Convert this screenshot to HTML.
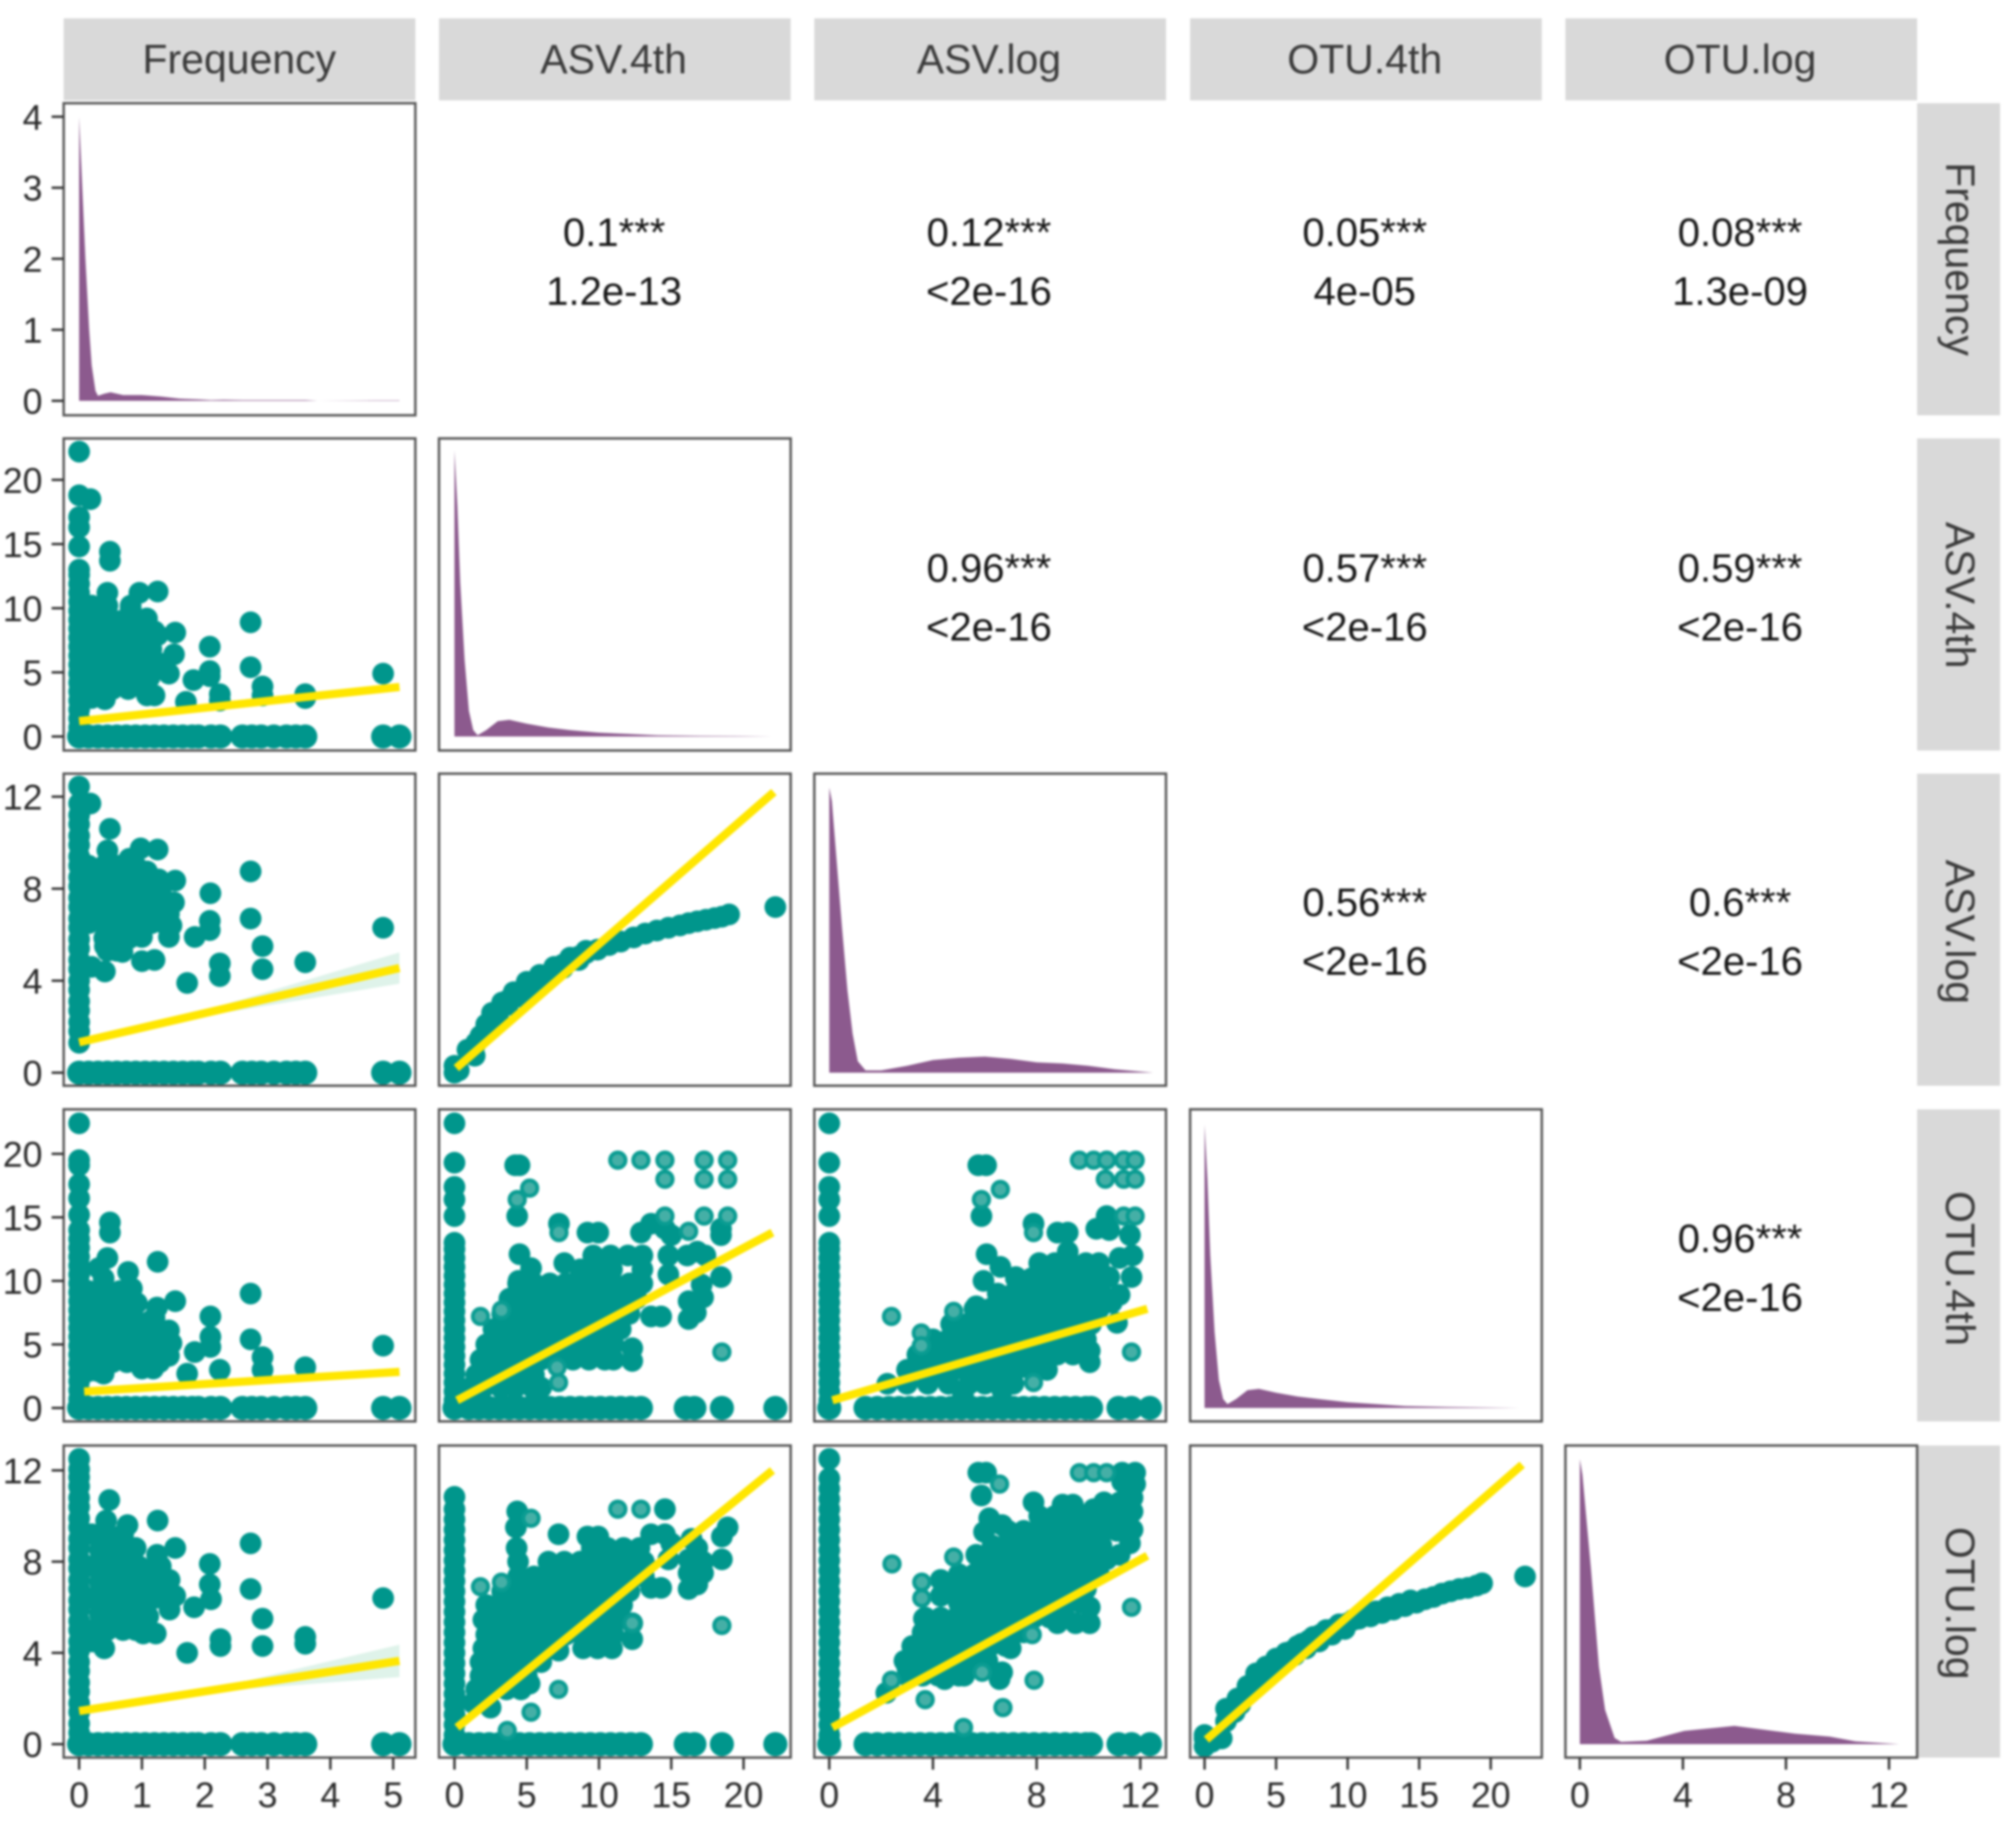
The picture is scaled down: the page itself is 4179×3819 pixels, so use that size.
<!DOCTYPE html>
<html lang="en">
<head>
<meta charset="utf-8">
<title>Pairs plot</title>
<style>
html,body{margin:0;padding:0;background:#fff;width:4179px;height:3819px;overflow:hidden}
svg{display:block;filter:blur(2.4px)}
text{font-family:"Liberation Sans",sans-serif}
.strip{fill:#d9d9d9}
.st{font-size:85px;fill:#3a3a3a;text-anchor:middle}
.co{font-size:83px;fill:#161616;text-anchor:middle}
.tk{font-size:74px;fill:#2b2b2b}
</style>
</head>
<body>
<svg id="chart" xmlns="http://www.w3.org/2000/svg" width="4179" height="3819" viewBox="0 0 4179 3819">
<rect width="4179" height="3819" fill="#fff"/>
<g>
<rect class="strip" x="132" y="38" width="729" height="170"/>
<rect class="strip" x="910" y="38" width="729" height="170"/>
<rect class="strip" x="1688" y="38" width="729" height="170"/>
<rect class="strip" x="2467" y="38" width="729" height="170"/>
<rect class="strip" x="3245" y="38" width="729" height="170"/>
<text class="st" x="496" y="152">Frequency</text>
<text class="st" x="1272" y="152">ASV.4th</text>
<text class="st" x="2050" y="152">ASV.log</text>
<text class="st" x="2829" y="152">OTU.4th</text>
<text class="st" x="3607" y="152">OTU.log</text>
</g>
<g>
<rect class="strip" x="3974" y="214" width="172" height="647"/>
<rect class="strip" x="3974" y="909" width="172" height="647"/>
<rect class="strip" x="3974" y="1604" width="172" height="647"/>
<rect class="strip" x="3974" y="2300" width="172" height="647"/>
<rect class="strip" x="3974" y="2997" width="172" height="647"/>
<text class="st" transform="translate(4034,537) rotate(90)">Frequency</text>
<text class="st" transform="translate(4034,1234) rotate(90)">ASV.4th</text>
<text class="st" transform="translate(4034,1932) rotate(90)">ASV.log</text>
<text class="st" transform="translate(4034,2630) rotate(90)">OTU.4th</text>
<text class="st" transform="translate(4034,3324) rotate(90)">OTU.log</text>
</g>
<g>
<text class="co" x="1273" y="510">0.1***</text>
<text class="co" x="1273" y="632">1.2e-13</text>
<text class="co" x="2050" y="510">0.12***</text>
<text class="co" x="2050" y="632">&lt;2e-16</text>
<text class="co" x="2829" y="510">0.05***</text>
<text class="co" x="2829" y="632">4e-05</text>
<text class="co" x="3607" y="510">0.08***</text>
<text class="co" x="3607" y="632">1.3e-09</text>
<text class="co" x="2050" y="1206">0.96***</text>
<text class="co" x="2050" y="1328">&lt;2e-16</text>
<text class="co" x="2829" y="1206">0.57***</text>
<text class="co" x="2829" y="1328">&lt;2e-16</text>
<text class="co" x="3607" y="1206">0.59***</text>
<text class="co" x="3607" y="1328">&lt;2e-16</text>
<text class="co" x="2829" y="1899">0.56***</text>
<text class="co" x="2829" y="2021">&lt;2e-16</text>
<text class="co" x="3607" y="1899">0.6***</text>
<text class="co" x="3607" y="2021">&lt;2e-16</text>
<text class="co" x="3607" y="2596">0.96***</text>
<text class="co" x="3607" y="2718">&lt;2e-16</text>
</g>
<g id="panels"></g>
</svg>
<script>
// axis ticks
const tickFreqX=[0,1,2,3,4,5];
const tickFreqY=[0,1,2,3,4];
const tickAsv4=[0,5,10,15,20];
const tickAsvLog=[0,4,8,12];
const tickOtu4=[0,5,10,15,20];
const tickOtuLog=[0,4,8,12];
// densities (diagonal)
const densFreqX=[0,.05,.1,.16,.2,.26,.3,.4,.5,.7,1,1.3,1.6,1.9,2.1,2.3,2.6,3,3.6,3.8,4.8,5.1];
const densFreqY=[4,3,2,1,.5,.14,.07,.1,.12,.08,.08,.06,.03,.02,.01,.015,.01,.01,.01,0,.006,.006];
const densAsv4X=[0,.2,.4,.7,1,1.3,1.6,2.2,3,3.8,5,6.5,8,10,12,14,17,20,22];
const densAsv4Y=[22.3,18,12,6,2,.5,.1,.5,1.2,1.3,1,.7,.5,.3,.2,.1,.05,.03,0];
const densAsvLogX=[0,.1,.3,.5,.7,.9,1.1,1.4,2,3,4,5,6,7,8,9,10,11,12,12.5];
const densAsvLogY=[12.4,11.8,9,6.2,3.6,1.7,.5,.1,.1,.3,.55,.65,.7,.6,.45,.4,.3,.15,.05,0];
const densOtu4X=[0,.2,.4,.7,1,1.3,1.6,2.2,3,3.8,5,6.5,8,10,12,14,17,20,22];
const densOtu4Y=[22.3,18,12,6,2.2,.7,.3,.7,1.4,1.5,1.2,.9,.7,.45,.3,.15,.08,.03,0];
const densOtuLogX=[0,.1,.43,.74,.98,1.35,1.6,2.6,4.05,6,8.35,9.7,10.7,12.4];
const densOtuLogY=[12.5,11.8,7.7,3.4,1.5,.27,.1,.15,.58,.8,.46,.33,.12,0];
// marks on the zero lines
const bandFreqX=[0,.15,.3,.45,.6,.75,.9,1.05,1.2,1.35,1.5,1.65,1.8,1.9,2.1,2.25,2.6,2.75,2.9,3.1,3.3,3.45,3.6,4.84,5.1];
const bandAsv4X=[0,1,1.7,2.4,3.1,3.8,4.5,5.2,5.9,6.6,7.3,8,8.7,9.4,10.1,10.8,11.5,12.2,12.9,16,16.6,18.5,22.2];
const bandAsvLogX=[0,1.4,1.85,2.3,2.7,3.1,3.5,3.9,4.3,4.7,5.1,5.5,5.9,6.3,6.7,7.1,7.5,7.9,8.3,8.7,9.1,9.5,9.9,10.1,11.16,11.66,12.37];
const stripeAsv4FreqY=[.7,1.4,2.1,2.8,3.5,4.2,4.9,5.6,6.3,7,7.7,8.4,9.1,9.8,10.5,11.2,11.9,12.6,13,14.8,16.3,17.1,18.8,22.2];
const stripeAsvLogFreqY=[1.3,1.8,2.2,2.7,3.1,3.6,4,4.5,4.9,5.4,5.8,6.3,6.7,7.2,7.6,8.1,8.5,9,9.4,9.9,10.3,10.8,11.2,11.7,12.44];
const stripeOtu4FreqY=[.7,1.4,2.1,2.8,3.5,4.2,4.9,5.6,6.3,7,7.7,8.4,9.1,9.8,10.5,11.2,11.9,12.6,13.3,14,15.2,16.5,17.6,19.1,19.5,22.4];
const stripeOtuLogFreqY=[.5,.9,1.4,1.8,2.3,2.7,3.2,3.6,4.1,4.5,5,5.4,5.9,6.3,6.8,7.2,7.7,8.1,8.6,9,9.5,9.9,10.4,10.8,11.3,11.7,12.05,12.5];
const stripeOtu4Y=[.6,1.3,2,2.7,3.4,4.1,4.8,5.5,6.2,6.9,7.6,8.3,9,9.7,10.4,11.1,11.8,12.5,13,15.1,16.4,17.4,19.3,22.4];
const stripeOtuLogAsv4Y=[.4,.85,1.3,1.75,2.2,2.65,3.1,3.55,4,4.45,4.9,5.35,5.8,6.25,6.7,7.15,7.6,8.05,8.5,8.95,9.4,9.85,10.3,10.84];
const stripeOtuLogAsvLogY=[.4,.85,1.3,1.75,2.2,2.65,3.1,3.55,4,4.45,4.9,5.35,5.8,6.25,6.7,7.15,7.6,8.05,8.5,8.95,9.4,9.85,10.3,10.75,11.2,11.65,12.5];
// Frequency vs ASV.4th
const a4fX=[.18,.49,.49,2.08,2.08,2.08,2.73,2.73,2.92,2.92,2.24,2.24,1.7,3.6,3.6,4.84,1.82,.45,.96,1.25,.82,1.08,1.2,1.53,1.51,1.43,.41,1.08,1.2,
.2,.45,.82,
.15,.4,.65,.9,
.28,.53,.78,1.03,1.25,
.15,.4,.65,.9,1.15,
.28,.53,.78,1.03,1.28,
.15,.4,.65,.9,1.12,
.28,.53,.78,1.03,
.2,.4];
const a4fY=[18.5,14.4,13.7,7,5.1,4.7,8.9,5.4,3.9,3.2,3.3,2.8,2.7,3.3,3,4.9,4.4,11.2,11.2,11.3,10,9.2,8.2,8.1,6.4,4.9,2.9,3.2,3.2,
10.2,10.2,10.2,
9,9,9,9,
7.9,7.9,7.9,7.9,7.9,
6.8,6.8,6.8,6.8,6.8,
5.7,5.7,5.7,5.7,5.7,
4.6,4.6,4.6,4.6,4.6,
3.7,3.7,3.7,3.7,
3,3];
const a4fFitX=[0,5.1];
const a4fFitY=[1.2,3.86];
const a4fCiX=[0,2.5,5.1];
const a4fCiH=[.1,.08,.25];
// Frequency vs ASV.log
const alfX=[.18,.49,.98,1.25,.8,1.08,1.53,1.27,1.51,1.43,1.47,1.43,1,
1.84,2.08,2.08,2.09,2.73,2.73,2.92,2.92,2.24,2.24,1.72,3.6,4.84,
1,1.2,.69,.41,.2,.41,.45,
.15,.4,.65,.9,
.28,.53,.78,1.03,
.15,.4,.65,.9,1.15,1.3,
.28,.53,.78,1.03,1.28,
.15,.4,.65,.9,1.15,1.35,
.4,.65,.8,
.45,.6];
const alfY=[11.7,10.6,9.75,9.7,9.3,8.75,8.35,8.4,7.4,6.9,6.4,5.9,5.9,
5.9,6.6,6.2,7.8,8.75,6.7,5.5,4.5,4.75,4.2,3.9,4.8,6.3,
4.85,4.9,5.25,4.4,4.6,5.5,9.66,
9,9,9,9,
8.4,8.4,8.4,8.4,
7.8,7.8,7.8,7.8,7.8,7.8,
7.15,7.15,7.15,7.15,7.15,
6.5,6.5,6.5,6.5,6.5,6.5,
5.85,5.85,5.85,
5.3,5.3];
const alfFitX=[0,5.1];
const alfFitY=[1.32,4.55];
const alfCiX=[0,2,5.1];
const alfCiH=[.15,.12,.68];
// Frequency vs OTU.4th
const o4fX=[.49,.49,.45,1.25,.78,.31,.39,.84,.92,1.53,1.24,1.2,
2.09,2.09,2.09,1.84,1.43,1.47,1.43,1.18,1,2.73,2.73,2.92,2.92,2.24,1.72,3.6,4.84,.39,.76,
.15,.4,.65,
.28,.53,.78,
.15,.4,.65,.9,1.15,
.28,.53,.78,1.03,1.28,
.15,.4,.65,.9,1.15,1.35,
.28,.53,1.03,1.28,
.15,.3];
const o4fY=[14.6,13.8,11.8,11.5,10.7,11,10.2,9.4,8.25,8.4,7.9,7.1,
7.2,5.6,4.8,4.4,6.1,5.1,4.1,3.1,3.1,9,5.4,4,3,3,2.7,3.2,4.9,2.7,3.6,
9.2,9.2,9.2,
8,8,8,
6.9,6.9,6.9,6.9,6.9,
5.8,5.8,5.8,5.8,5.8,
4.7,4.7,4.7,4.7,4.7,4.7,
3.6,3.6,3.6,3.6,
2.9,2.9];
const o4fFitX=[.08,5.1];
const o4fFitY=[1.29,2.84];
const o4fCiX=[.08,2.5,5.1];
const o4fCiH=[.1,.08,.3];
// Frequency vs OTU.log
const olfX=[.48,.43,.77,1.25,1.53,1.24,.9,1,1.44,1.53,1.44,1.83,
2.08,2.08,2.1,2.73,2.73,2.92,2.92,2.25,2.25,1.72,3.6,3.6,4.84,1.02,1.22,.4,.21,1.1,
.2,.45,.7,
.33,.58,.83,
.2,.45,.7,.95,1.3,
.33,.58,.83,1.08,1.33,
.2,.45,.7,.95,1.2,1.4,
.33,.58,.83,.95,
.2,.45,.7,.9];
const olfY=[10.7,9.8,9.6,9.8,8.6,8.3,8.6,7.7,7.2,6.5,5.9,6,
7.9,7,6.35,8.8,6.8,5.5,4.3,4.6,4.3,4,4.7,4.4,6.4,4.85,4.85,4.2,4.5,5.6,
9.2,9.2,9.2,
8.5,8.5,8.5,
7.8,7.8,7.8,7.8,7.8,
7.1,7.1,7.1,7.1,7.1,
6.4,6.4,6.4,6.4,6.4,6.4,
5.7,5.7,5.7,5.7,
5,5,5,5];
const olfFitX=[0,5.1];
const olfFitY=[1.45,3.65];
const olfCiX=[0,2.4,5.1];
const olfCiH=[.12,.12,.71];
// ASV.4th vs ASV.log
const ala4X=[0,0,.3,.9,1.4,1.5,1.8,2.2,2.6,3,3.3,3.7,4.1,4.6,5,5.5,5.9,6.4,6.9,7.5,8,8.6,9.1,9.9,10.7,11.5,12.4,13.2,14,14.8,15.6,16.2,16.8,17.4,18,18.5,19,22.2,
2.6,3.3,4.1,5,5.9,6.9,8,9.1,
3,3.7,4.6,5.5,6.4,7.5,8.6];
const ala4Y=[0,.3,.1,1,.74,1.3,1.6,2.1,2.4,2.65,2.85,3.15,3.3,3.5,3.75,3.9,4.05,4.25,4.45,4.7,4.85,5.05,5.2,5.35,5.55,5.7,5.88,6.05,6.18,6.3,6.4,6.5,6.58,6.65,6.72,6.78,6.88,7.2,
2.6,3.05,3.5,3.95,4.25,4.6,5,5.3,
2.45,2.95,3.3,3.7,4.05,4.55,4.9];
const ala4FitX=[.13,22.1];
const ala4FitY=[.2,12.2];
// ASV.4th vs OTU.4th
const o4a4X=[4.2,4.5,4.34,7.23,9.2,9.95,12.9,13.6,14.56,15,18.44,18.44,14.8,16.1,16.8,17.36,18.44,14.8,17.1,17.2,16.2,16.7,16.2,12.3,12.3,14.3,13.6,4.5,5.3,4.43,7.6,
9.6,10.8,12,13,
8.7,9.8,10.9,13,
4.4,5.5,6.6,7.7,8.8,9.9,11,12.1,13,
3.8,4.9,6,7.1,8.2,9.3,10.4,11.5,12.6,
3.3,4.4,5.5,6.6,7.7,8.8,9.9,11,12.1,
2.7,3.8,4.9,6,7.1,8.2,9.3,10.4,11.5,
2.2,3.3,4.4,5.5,6.6,7.7,8.8,9.9,11,
1.8,2.7,3.8,4.9,6,7.1,8.2,9.3,10.4,11,
1.5,2.2,3.3,4.4,5.5,
1.1,2,3.2,4.2,5.4,6];
const o4a4Y=[19.1,19.1,15.1,14.5,13.8,13.8,13.8,14.5,14.1,13.6,13.6,14.1,12,12,12.3,12,10.3,10.5,9.7,8.7,8.4,7.5,7,4.7,3.7,7.2,7.2,12.1,11,10,11.4,
12,12,12,12,
10.9,10.9,10.9,10.9,
9.8,9.8,9.8,9.8,9.8,9.8,9.8,9.8,9.8,
8.6,8.6,8.6,8.6,8.6,8.6,8.6,8.6,8.6,
7.4,7.4,7.4,7.4,7.4,7.4,7.4,7.4,7.4,
6.2,6.2,6.2,6.2,6.2,6.2,6.2,6.2,6.2,
5,5,5,5,5,5,5,5,5,
3.8,3.8,3.8,3.8,3.8,3.8,3.8,3.8,3.8,3.8,
2.6,2.6,2.6,2.6,2.6,
1.6,1.6,1.6,1.6,1.6,1.6];
const o4a4PaleX=[11.3,12.9,14.56,17.27,18.9,14.56,17.27,18.9,5.2,4.34,7.23,14.56,17.27,18.9,16.2,1.8,3.25,7.2,7.1,18.5];
const o4a4PaleY=[19.5,19.5,19.5,19.5,19.5,18,18,18,17.3,16.4,13.8,15.1,15.1,15.1,13.9,7.2,7.7,2,3.2,4.4];
const o4a4FitX=[.18,22];
const o4a4FitY=[.6,13.8];
// ASV.4th vs OTU.log
const ola4X=[4.34,4.25,14.56,7.2,9.2,9.95,4.3,4.4,14.56,13.6,15,14.8,18.5,18.5,18.9,16.4,16.8,17.2,17.2,16.2,16.2,16.8,16.2,12.3,12.3,14.3,13.6,5.2,2.5,1.7,6,7.2,
9.5,10.6,11.7,12.8,
6.5,7.6,8.7,9.8,10.9,12,13.1,
4.4,5.5,6.6,7.7,8.8,9.9,11,12.1,13.1,
3.3,4.4,5.5,6.6,7.7,8.8,9.9,11,12.1,
2.2,3.3,4.4,5.5,6.6,7.7,8.8,9.9,10.9,11.6,
2,3,4.1,5.2,6.3,7.4,8.5,9.6,10.7,11.2,
2.2,3.3,4.4,5.5,6.6,7.7,8.8,9.4,10.5,11,
2,3,4.1,5.2,6.2,8.9,9.9,10.9,
1.8,2.8,3.9,5,6,
1.8,2.8,3.9,5,
1.5,2.5,3.6,4.6,
1.3,2.3];
const ola4Y=[10.2,9.5,10.3,9.2,9.1,9.1,8.6,8,9.2,9.2,8.8,8.1,9.1,8.1,9.5,9,8.6,8,7.5,8.1,7.5,7,6.8,5.3,4.6,6.85,6.85,2.65,1.6,1.9,3.6,4.1,
8.6,8.6,8.6,8.6,
8,8,8,8,8,8,8,
7.35,7.35,7.35,7.35,7.35,7.35,7.35,7.35,7.35,
6.7,6.7,6.7,6.7,6.7,6.7,6.7,6.7,6.7,
6.1,6.1,6.1,6.1,6.1,6.1,6.1,6.1,6.1,6.1,
5.45,5.45,5.45,5.45,5.45,5.45,5.45,5.45,5.45,5.45,
4.8,4.8,4.8,4.8,4.8,4.8,4.8,4.8,4.8,4.8,
4.2,4.2,4.2,4.2,4.2,4.2,4.2,4.2,
3.6,3.6,3.6,3.6,3.6,
3,3,3,3,
2.4,2.4,2.4,2.4,
1.8,1.8];
const ola4PaleX=[5.3,11.3,12.9,1.8,3.25,7.2,5.3,3.65,18.5,12.3];
const ola4PaleY=[9.9,10.3,10.3,6.9,7.1,2.4,1.4,.6,5.2,5.3];
const ola4FitX=[.18,22];
const ola4FitY=[.73,12];
// ASV.log vs OTU.4th
const o4alX=[5.75,6.05,5.87,7.88,8.8,9.2,10.3,10.8,11.6,6.07,6.6,5.95,2.24,7.88,10.05,10.05,11.2,11.7,11.2,10.9,11.66,10.8,11.1,6.67,5.16,9.2,10.7,5.67,7.2,
8.1,8.7,9.3,9.9,10.4,
7.2,7.8,8.4,9,9.6,10.2,10.6,
6.5,7.1,7.7,8.3,8.9,9.5,10.1,10.5,
5.6,6.2,6.8,7.4,8,8.6,9.2,9.8,10.4,
4.7,5.3,5.9,6.5,7.1,7.7,8.3,8.9,9.5,10.1,
4,4.6,5.2,5.8,6.4,7,7.6,8.2,8.8,9.4,9.9,
3.4,4,4.6,5.2,5.8,6.4,7,7.6,8.2,8.8,9.4,
3,3.6,4.2,4.8,5.4,6,6.6,7.2,7.8,8.4,
3,3.8,4.6,5.4,6,6.7,7.1];
const o4alY=[19.1,19.1,15.1,14.5,13.8,13.8,14.1,14,13.6,12.1,11.1,10,1.9,3.1,4.5,3.6,11.8,12,8.9,8.3,10.3,10.3,6.7,1.4,1,12.3,15.1,8,10.3,
11.4,11.4,11.4,11.4,11.4,
10.2,10.2,10.2,10.2,10.2,10.2,10.2,
9,9,9,9,9,9,9,9,
7.8,7.8,7.8,7.8,7.8,7.8,7.8,7.8,7.8,
6.6,6.6,6.6,6.6,6.6,6.6,6.6,6.6,6.6,6.6,
5.4,5.4,5.4,5.4,5.4,5.4,5.4,5.4,5.4,5.4,5.4,
4.2,4.2,4.2,4.2,4.2,4.2,4.2,4.2,4.2,4.2,4.2,
3,3,3,3,3,3,3,3,3,3,
1.9,1.9,1.9,1.9,1.9,1.9,1.9];
const o4alPaleX=[6.6,5.87,9.65,10.2,10.7,11.36,11.8,10.65,11.36,11.8,7.88,11.36,11.8,2.4,4.8,3.55,3.55,7.88,11.66];
const o4alPaleY=[17.2,16.4,19.5,19.5,19.5,19.5,19.5,18,18,18,13.8,15.1,15.1,7.2,7.6,5.9,4.9,2,4.4];
const o4alFitX=[.12,12.27];
const o4alFitY=[.6,7.8];
// ASV.log vs OTU.log
const olalX=[5.75,6.05,5.87,7.88,9,9.4,10.6,10.2,11.7,11.7,11.2,11.7,11.2,11.6,11.2,6.17,6.67,5.97,5.67,4.3,4.3,3.65,10.05,10.05,6.67,6.57,2.2,3,4.45,8.8,9.5,7,11.3,11.8,11.8,11.3,
8.1,8.7,9.3,9.9,10.5,11.1,
6.9,7.5,8.1,8.7,9.3,9.9,10.5,11.1,
6.3,6.9,7.5,8.1,8.7,9.3,9.9,10.5,
5.9,6.5,7.1,7.7,8.3,8.9,9.5,10.1,10.7,
5,5.6,6.2,6.8,7.4,8,8.6,9.2,9.8,10.4,
4.6,5.2,5.8,6.4,7,7.6,8.2,8.8,9.4,9.9,
5,5.6,6.2,6.8,7.4,8,8.6,9.2,9.7,
3.7,4.3,4.9,5.5,6.1,6.7,7.3,7.9,8.5,9.1,
3.6,4.2,4.8,5.4,6,6.6,7.2,7.5,
3.2,3.8,4.4,5,5.6,6.2,6.8,
2.9,3.5,4.1,4.7,5.3,5.9,6.1,
3,3.6,4.2,5,5.2];
const olalY=[11.9,11.9,10.9,10.6,10.5,10.5,10.6,10.3,10.8,10.2,10.6,9.4,9.7,8.8,8.3,9.9,9.6,9.3,8.3,7.2,6.5,5.5,6,5.3,3.15,2.85,2.25,3.4,2.85,5.3,5.3,4.2,11.9,11.9,11.4,11.5,
10,10,10,10,10,10,
9.35,9.35,9.35,9.35,9.35,9.35,9.35,9.35,
8.7,8.7,8.7,8.7,8.7,8.7,8.7,8.7,
8.1,8.1,8.1,8.1,8.1,8.1,8.1,8.1,8.1,
7.45,7.45,7.45,7.45,7.45,7.45,7.45,7.45,7.45,7.45,
6.8,6.8,6.8,6.8,6.8,6.8,6.8,6.8,6.8,6.8,
6.2,6.2,6.2,6.2,6.2,6.2,6.2,6.2,6.2,
5.55,5.55,5.55,5.55,5.55,5.55,5.55,5.55,5.55,5.55,
4.9,4.9,4.9,4.9,4.9,4.9,4.9,4.9,
4.3,4.3,4.3,4.3,4.3,4.3,4.3,
3.65,3.65,3.65,3.65,3.65,3.65,3.65,
3,3,3,3,3];
const olalPaleX=[6.57,9.65,10.2,10.7,2.42,4.8,3.57,3.57,11.66,7.83,5.9,7.9,3.7,6.7,5.18,2.4];
const olalPaleY=[11.4,11.9,11.9,11.9,7.9,8.2,7.1,6.4,6,4.8,3.15,2.8,1.95,1.6,.73,2.8];
const olalFitX=[.12,12.27];
const olalFitY=[.73,8.26];
// OTU.4th vs OTU.log
const olo4X=[0,0,0,.5,1.2,1.5,1.5,2.1,2.3,2.8,3,3.4,3.6,4,4.3,4.8,5,5.5,5.7,6.3,6.5,7.1,7.3,8,8.1,8.9,9,9.8,10,10.8,11.6,12.4,13.2,14,14.8,15.4,16,16.6,17.2,17.8,18.4,19,19.4,22.4,
2.5,3.2,3.8,4.5,5.2,6,6.8,7.6,8.5,9.4,10.4,11.2,12,12.8,13.6,14.4];
const olo4Y=[-.1,.25,.4,.1,.25,1,1.55,1.4,2,2.1,2.55,2.55,3.1,2.9,3.4,3.25,3.75,3.6,4,3.9,4.3,4.2,4.55,4.5,4.8,4.8,5.05,5.05,5.3,5.5,5.6,5.75,5.9,6.05,6.2,6.35,6.45,6.6,6.7,6.8,6.85,6.95,7.05,7.35,
1.75,2.6,3,3.35,3.7,4.05,4.4,4.7,5,5.25,5.45,5.65,5.82,6,6.15,6.3];
const olo4FitX=[.13,22.2];
const olo4FitY=[.2,12.25];

const NS='http://www.w3.org/2000/svg';
const panelsRoot=document.getElementById('panels');
const colLeft=[132,910,1688,2467,3245];
const rowTop=[214,909,1604,2300,2997];
const PW=729, PH=647;
const xDomains=[[-.246,5.353],[-1.07,23.26],[-.577,12.99],[-1.01,23.57],[-.56,13.09]];
const yDomains=[[-.204,4.19],[-1.09,23.23],[-.566,13],[-1.06,23.5],[-.59,13.09]];
const colNames=['frequency','asv-4th','asv-log','otu-4th','otu-log'];
function sx(c,v){const d=xDomains[c];return colLeft[c]+(v-d[0])/(d[1]-d[0])*PW;}
function sy(r,v){const d=yDomains[r];return rowTop[r]+PH-(v-d[0])/(d[1]-d[0])*PH;}
function make(parent,tag,attrs){
  const e=document.createElementNS(NS,tag);
  for(const k in attrs)e.setAttribute(k,attrs[k]);
  parent.appendChild(e);
  return e;
}
function drawDots(g,c,r,xs,ys,rad){
  const n=Math.min(xs.length,ys.length);
  for(let i=0;i<n;i++){
    const el=make(g,'circle',{cx:sx(c,xs[i]),cy:sy(r,ys[i]),r:rad,fill:'#00968c'});
    
    
  }
}
function drawPale(g,c,r,xs,ys){
  const n=Math.min(xs.length,ys.length);
  for(let i=0;i<n;i++){
    const el=make(g,'circle',{cx:sx(c,xs[i]),cy:sy(r,ys[i]),r:16,fill:'#45afa6',stroke:'#0a9c92','stroke-width':8});
    
    
  }
}
function drawZero(g,c,r,bandX,stripeY){
  bandX.forEach(function(v,i){
    const el=make(g,'circle',{cx:sx(c,v),cy:sy(r,0),r:25,fill:'#00968c'});
    
    
  });
  stripeY.forEach(function(v){
    const el=make(g,'circle',{cx:sx(c,0),cy:sy(r,v),r:22.5,fill:'#00968c'});
    
    
  });
}
function drawCi(g,c,r,xs,hs,fx,fy){
  const slope=(fy[1]-fy[0])/(fx[1]-fx[0]);
  const mid=function(x){return fy[0]+slope*(x-fx[0]);};
  const up=xs.map(function(x,i){return sx(c,x)+','+sy(r,mid(x)+hs[i]);});
  const lo=xs.map(function(x,i){return sx(c,x)+','+sy(r,mid(x)-hs[i]);}).reverse();
  const el=make(g,'polygon',{points:up.concat(lo).join(' '),fill:'#dff3ea'});
  
  
}
function drawFit(g,c,r,fx,fy){
  const el=make(g,'line',{x1:sx(c,fx[0]),y1:sy(r,fy[0]),x2:sx(c,fx[1]),y2:sy(r,fy[1]),stroke:'#ffe600','stroke-width':17});
  
  
}
function drawDensity(g,c,r,xs,ys){
  let pts=[sx(c,xs[0])+','+sy(r,0)];
  xs.forEach(function(x,i){pts.push(sx(c,x)+','+sy(r,ys[i]));});
  pts.push(sx(c,xs[xs.length-1])+','+sy(r,0));
  const el=make(g,'polygon',{points:pts.join(' '),fill:'#8c5a8e'});
  
  
}
function panelGroup(c,r){
  const clipId='clip-'+r+'-'+c;
  const cp=make(panelsRoot,'clipPath',{id:clipId});
  make(cp,'rect',{x:colLeft[c],y:rowTop[r],width:PW,height:PH});
  const g=make(panelsRoot,'g',{'clip-path':'url(#'+clipId+')'});
  
  
  return g;
}
function border(c,r){
  const el=make(panelsRoot,'rect',{x:colLeft[c],y:rowTop[r],width:PW,height:PH,fill:'none',stroke:'#555','stroke-width':5});
  
  
}
const scatterPanels=[
 {c:0,r:1,x:a4fX,y:a4fY,band:bandFreqX,stripe:stripeAsv4FreqY,fx:a4fFitX,fy:a4fFitY,cx:a4fCiX,ch:a4fCiH},
 {c:0,r:2,x:alfX,y:alfY,band:bandFreqX,stripe:stripeAsvLogFreqY,fx:alfFitX,fy:alfFitY,cx:alfCiX,ch:alfCiH},
 {c:0,r:3,x:o4fX,y:o4fY,band:bandFreqX,stripe:stripeOtu4FreqY,fx:o4fFitX,fy:o4fFitY,cx:o4fCiX,ch:o4fCiH},
 {c:0,r:4,x:olfX,y:olfY,band:bandFreqX,stripe:stripeOtuLogFreqY,fx:olfFitX,fy:olfFitY,cx:olfCiX,ch:olfCiH},
 {c:1,r:2,x:ala4X,y:ala4Y,band:[],stripe:[],fx:ala4FitX,fy:ala4FitY},
 {c:1,r:3,x:o4a4X,y:o4a4Y,band:bandAsv4X,stripe:stripeOtu4Y,px:o4a4PaleX,py:o4a4PaleY,fx:o4a4FitX,fy:o4a4FitY},
 {c:1,r:4,x:ola4X,y:ola4Y,band:bandAsv4X,stripe:stripeOtuLogAsv4Y,px:ola4PaleX,py:ola4PaleY,fx:ola4FitX,fy:ola4FitY},
 {c:2,r:3,x:o4alX,y:o4alY,band:bandAsvLogX,stripe:stripeOtu4Y,px:o4alPaleX,py:o4alPaleY,fx:o4alFitX,fy:o4alFitY},
 {c:2,r:4,x:olalX,y:olalY,band:bandAsvLogX,stripe:stripeOtuLogAsvLogY,px:olalPaleX,py:olalPaleY,fx:olalFitX,fy:olalFitY},
 {c:3,r:4,x:olo4X,y:olo4Y,band:[],stripe:[],fx:olo4FitX,fy:olo4FitY}
];
const densityPanels=[
 {i:0,x:densFreqX,y:densFreqY},{i:1,x:densAsv4X,y:densAsv4Y},{i:2,x:densAsvLogX,y:densAsvLogY},{i:3,x:densOtu4X,y:densOtu4Y},{i:4,x:densOtuLogX,y:densOtuLogY}
];
densityPanels.forEach(function(p){
  drawDensity(panelGroup(p.i,p.i),p.i,p.i,p.x,p.y);
  border(p.i,p.i);
});
scatterPanels.forEach(function(p){
  const g=panelGroup(p.c,p.r);
  if(p.cx)drawCi(g,p.c,p.r,p.cx,p.ch,p.fx,p.fy);
  drawZero(g,p.c,p.r,p.band,p.stripe);
  drawDots(g,p.c,p.r,p.x,p.y,22.5);
  if(p.px)drawPale(g,p.c,p.r,p.px,p.py);
  drawFit(g,p.c,p.r,p.fx,p.fy);
  border(p.c,p.r);
});
const xTicks=[tickFreqX,tickAsv4,tickAsvLog,tickOtu4,tickOtuLog];
const yTicks=[tickFreqY,tickAsv4,tickAsvLog,tickOtu4,tickOtuLog];
xTicks.forEach(function(list,c){
  list.forEach(function(v){
    const px=sx(c,v), base=rowTop[4]+PH;
    const tm=make(panelsRoot,'line',{x1:px,x2:px,y1:base,y2:base+25,stroke:'#333','stroke-width':5});
    
    
    const t=make(panelsRoot,'text',{x:px,y:3747,'text-anchor':'middle','class':'tk'});
    t.textContent=String(v);
    
    
  });
});
yTicks.forEach(function(list,r){
  list.forEach(function(v){
    const py=sy(r,v), left=colLeft[0];
    const tm=make(panelsRoot,'line',{x1:left-25,x2:left,y1:py,y2:py,stroke:'#333','stroke-width':5});
    
    
    const t=make(panelsRoot,'text',{x:88,y:py+27,'text-anchor':'end','class':'tk'});
    t.textContent=String(v);
    
    
  });
});
</script>
</body>
</html>
